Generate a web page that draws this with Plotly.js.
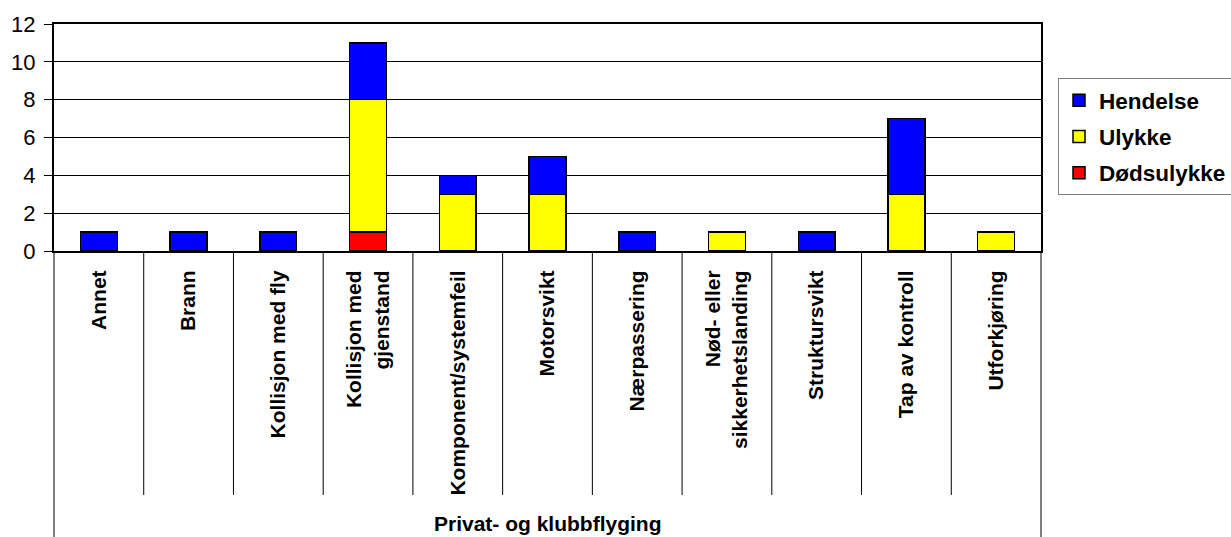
<!DOCTYPE html>
<html>
<head>
<meta charset="utf-8">
<script src="https://cdn.plot.ly/plotly-3.0.1.min.js"></script>
<style>
  html, body { margin: 0; padding: 0; background: #fff; }
  #chart { width: 1231px; height: 537px; }
</style>
</head>
<body>
<div id="chart"></div>
<script>
// Hendelsestyper, privat- og klubbflyging
const categories = [
  "Annet",
  "Brann",
  "Kollisjon med fly",
  "Kollisjon med<br>gjenstand",
  "Komponent/systemfeil",
  "Motorsvikt",
  "Nærpassering",
  "Nød- eller<br>sikkerhetslanding",
  "Struktursvikt",
  "Tap av kontroll",
  "Utforkjøring"
];
const dodsulykke = [0, 0, 0, 1, 0, 0, 0, 0, 0, 0, 0];
const ulykke     = [0, 0, 0, 7, 3, 3, 0, 1, 0, 3, 1];
const hendelse   = [1, 1, 1, 3, 1, 2, 1, 0, 1, 4, 0];
const groupLabel = "Privat- og klubbflyging";
const yTicks = [0, 2, 4, 6, 8, 10, 12];

const FONT = "Liberation Sans, Arial, sans-serif";

function barTrace(name, values, color, rank) {
  return {
    type: "bar",
    name: name,
    legendgroup: name,
    legendrank: rank,
    x: categories,
    y: values.map(v => (v === 0 ? null : v)),
    marker: { color: color, line: { color: "#000", width: 1.5 } },
    hoverinfo: "name+y"
  };
}

// Stacked bottom to top; listed top to bottom in the legend
const data = [
  barTrace("Dødsulykke", dodsulykke, "#FF0000", 3),
  barTrace("Ulykke", ulykke, "#FFFF00", 2),
  barTrace("Hendelse", hendelse, "#0000FF", 1)
];

// Plot area geometry (pixels) used for the category box below the axis
const plotTop = 24, plotBottom = 251, plotLeft = 54, plotRight = 1041;
const plotH = plotBottom - plotTop;
const plotW = plotRight - plotLeft;
const dividerBottom = -(495 - plotBottom) / plotH;
const frameBottom = -(537 - plotBottom) / plotH;

const shapes = [];
const n = categories.length;
for (let k = 0; k <= n; k++) {
  const edge = (k === 0 || k === n);
  shapes.push({
    type: "line", xref: "paper", yref: "paper",
    x0: k / n, x1: k / n, y0: 0, y1: edge ? frameBottom : dividerBottom,
    line: { color: "#000", width: 1 }
  });
}

const layout = {
  width: 1231,
  height: 537,
  margin: { l: plotLeft, r: 1231 - plotRight, t: plotTop, b: 537 - plotBottom, pad: 0, autoexpand: false },
  paper_bgcolor: "#fff",
  plot_bgcolor: "#fff",
  barmode: "stack",
  bargap: 0.59,
  font: { family: FONT, color: "#000" },
  showlegend: true,
  legend: {
    x: (1058 - plotLeft) / plotW, xanchor: "left",
    y: (plotBottom - 78) / plotH, yanchor: "top",
    traceorder: "grouped",
    bordercolor: "#808080",
    borderwidth: 1,
    bgcolor: "#fff",
    font: { family: FONT, size: 22.5, color: "#000", weight: "bold" },
    itemwidth: 30,
    tracegroupgap: 4
  },
  xaxis: {
    type: "category",
    tickangle: -90,
    ticks: "",
    showgrid: false,
    showline: true,
    linecolor: "#000",
    linewidth: 2,
    mirror: true,
    ticklabelstandoff: 9,
    tickfont: { family: FONT, size: 21, color: "#000", weight: "bold" },
    automargin: false,
    fixedrange: true
  },
  yaxis: {
    range: [0, 12],
    tickvals: yTicks,
    ticktext: yTicks.map(String),
    ticks: "outside",
    ticklen: 8,
    tickwidth: 1,
    tickcolor: "#000",
    showgrid: true,
    gridcolor: "#000",
    gridwidth: 1,
    zeroline: false,
    showline: true,
    linecolor: "#000",
    linewidth: 2,
    mirror: true,
    ticklabelstandoff: 4,
    tickfont: { family: FONT, size: 22, color: "#000" },
    automargin: false,
    fixedrange: true
  },
  shapes: shapes,
  annotations: [{
    text: groupLabel,
    xref: "paper", yref: "paper",
    x: 0.5, y: -(523 - plotBottom) / plotH,
    xanchor: "center", yanchor: "middle",
    showarrow: false,
    font: { family: FONT, size: 21, color: "#000", weight: "bold" }
  }]
};

Plotly.newPlot("chart", data, layout, { displayModeBar: false, staticPlot: true });
</script>
</body>
</html>
